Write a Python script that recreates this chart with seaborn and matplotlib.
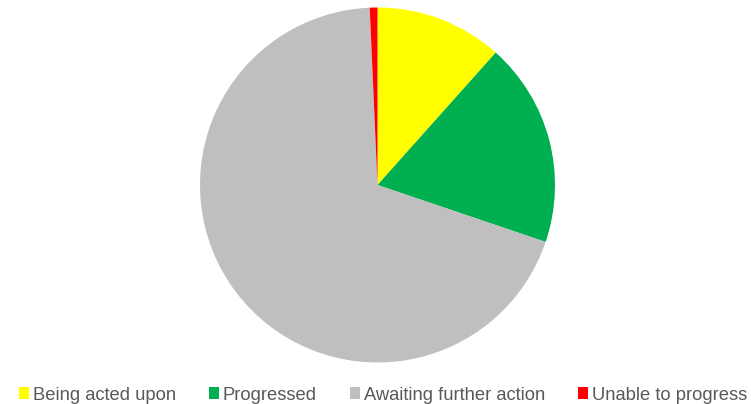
import matplotlib
matplotlib.use("Agg")
import matplotlib.pyplot as plt
from matplotlib.patches import Patch
import seaborn as sns

# Share of cases by status (percent)
categories = ["Being acted upon", "Progressed", "Awaiting further action", "Unable to progress"]
shares = [11.6, 18.6, 69.1, 0.7]
slice_colors = ["#FFFF00", "#00B050", "#BFBFBF", "#FF0000"]

sns.set_theme(style="white")
plt.rcParams["font.family"] = ["Liberation Sans", "DejaVu Sans"]

palette = sns.color_palette(slice_colors)

W, H = 751, 404
fig = plt.figure(figsize=(W / 100, H / 100), dpi=100)
fig.patch.set_facecolor("white")

cx, cy, r = 377.5, 185.0, 177.5
ax = fig.add_axes([(cx - r) / W, 1 - (cy + r) / H, 2 * r / W, 2 * r / H])
ax.pie(shares, colors=palette, startangle=90, counterclock=False,
       radius=1.0, wedgeprops=dict(linewidth=0))
ax.set_xlim(-1, 1)
ax.set_ylim(-1, 1)
ax.set_aspect("equal")
ax.axis("off")

handles = [Patch(facecolor=c, edgecolor="none") for c in palette]
leg = fig.legend(handles, categories, loc="center", ncol=4,
                 bbox_to_anchor=(383 / W, 1 - 395 / H),
                 frameon=False, fontsize=13.2,
                 handlelength=0.55, handleheight=0.55,
                 handletextpad=0.2, columnspacing=1.8, borderpad=0,
                 borderaxespad=0)
for t in leg.get_texts():
    t.set_color("#595959")

fig.savefig("out.png", dpi=100, facecolor="white")
